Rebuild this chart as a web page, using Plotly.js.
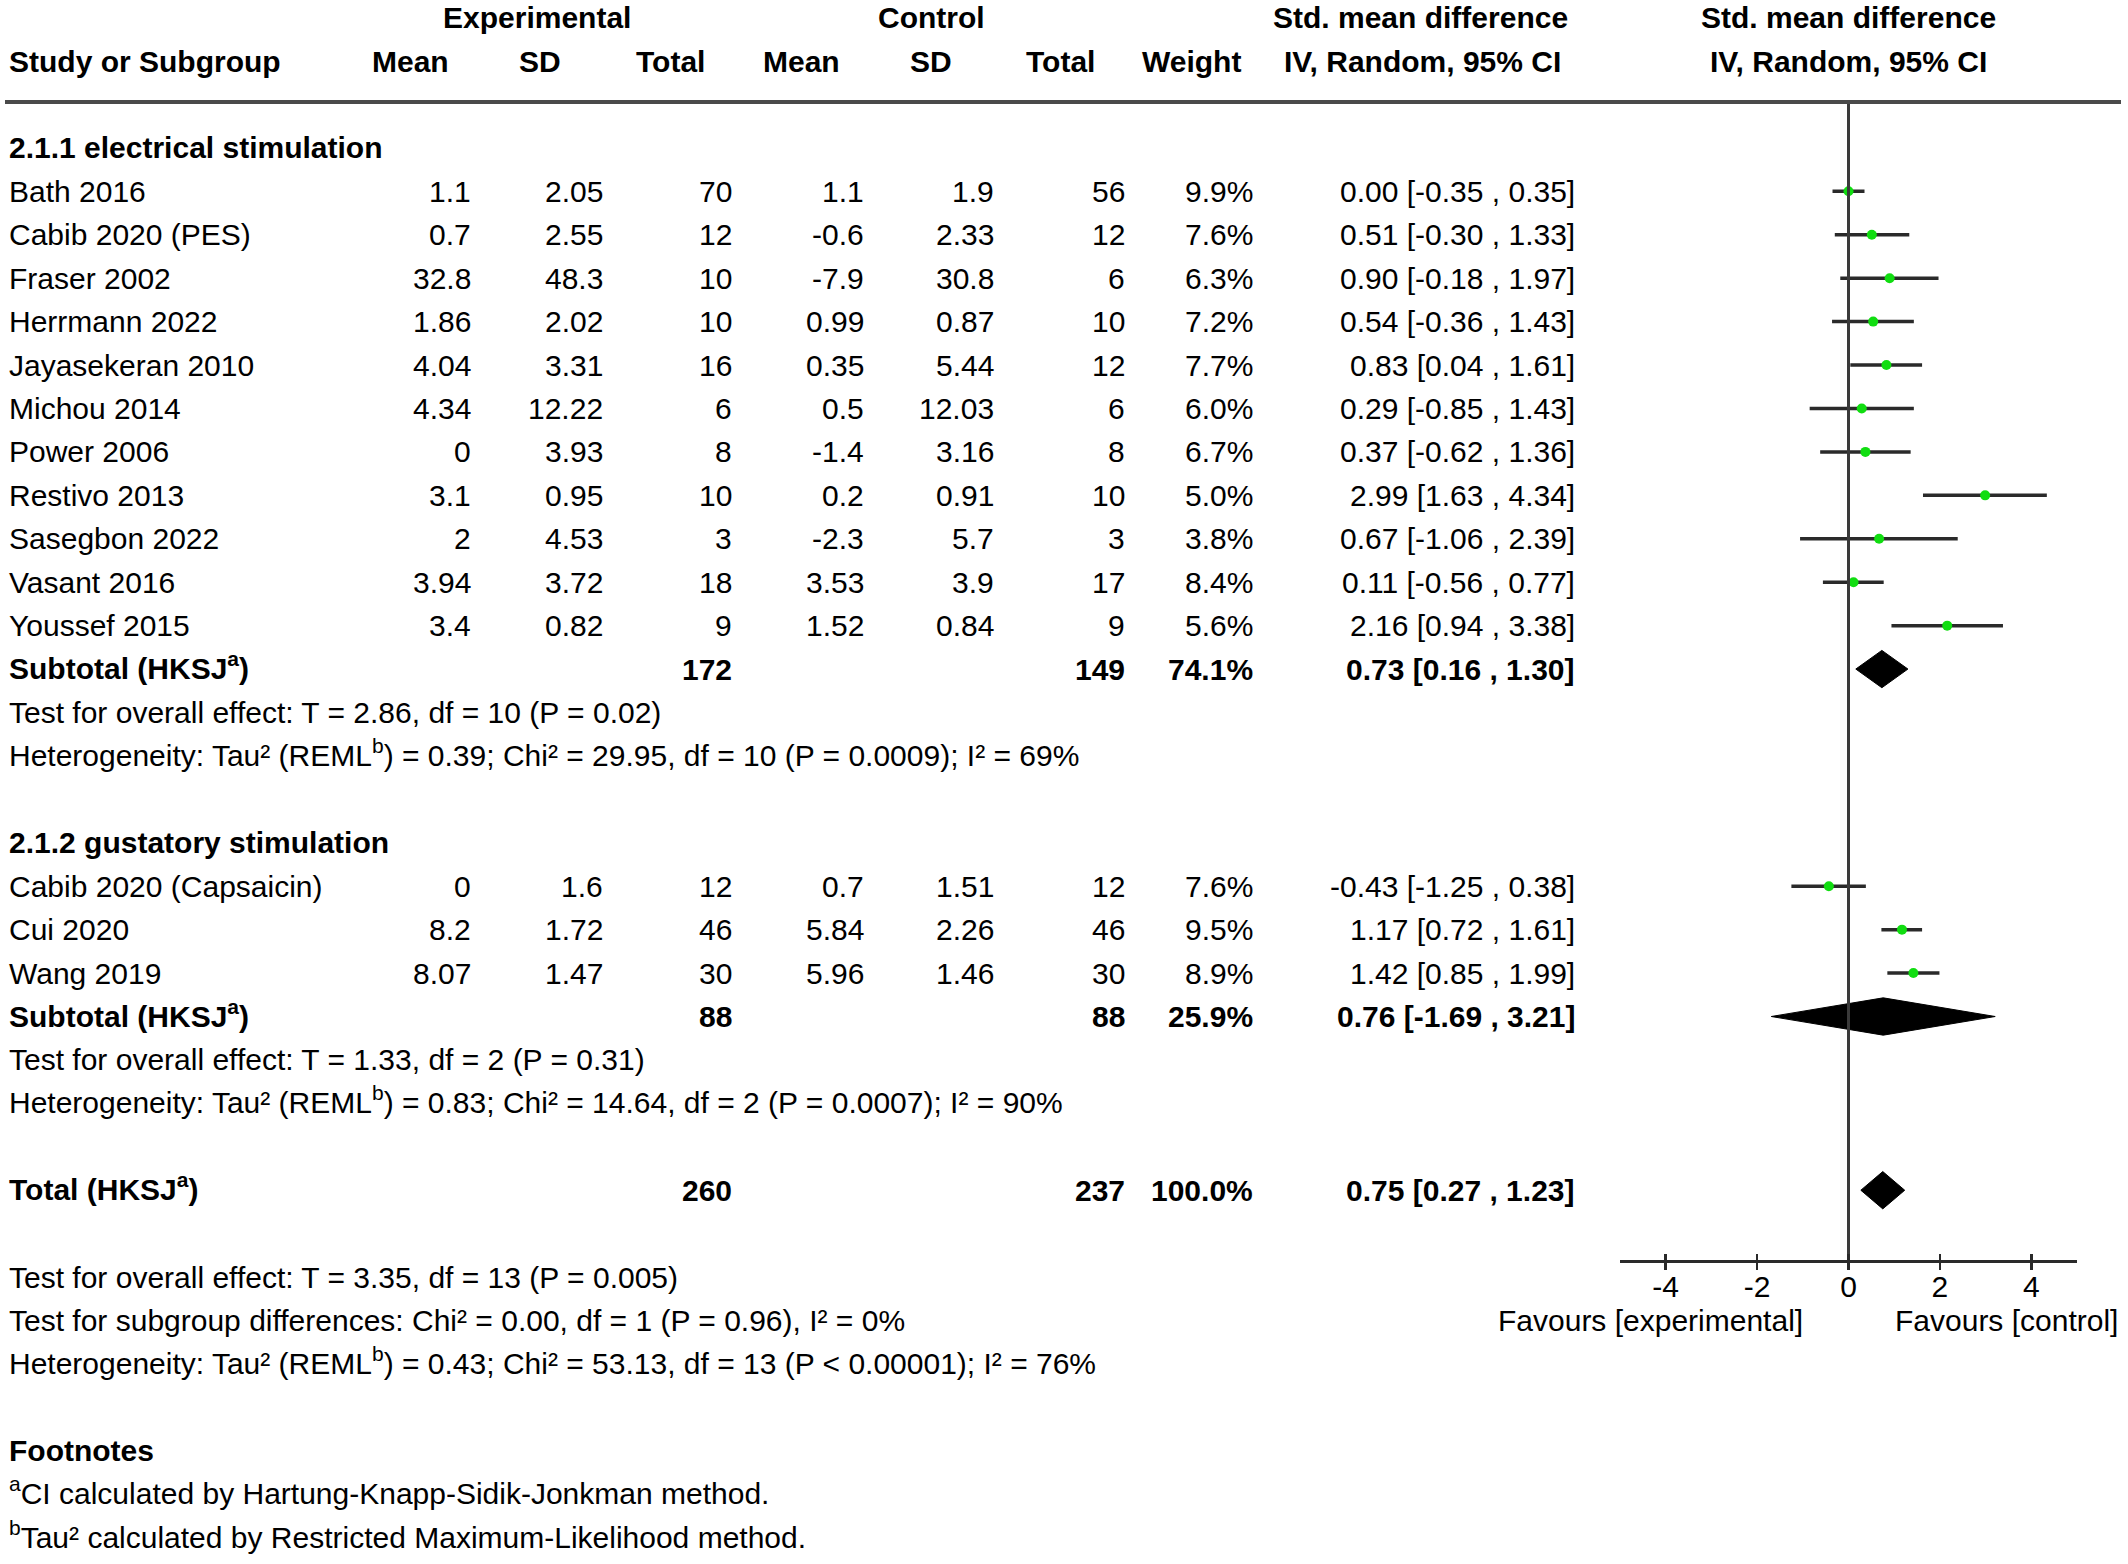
<!DOCTYPE html>
<html>
<head>
<meta charset="utf-8">
<script src="https://cdn.plot.ly/plotly-3.0.1.min.js"></script>
<style>html,body{margin:0;padding:0;background:#fff;}#chart{width:2128px;height:1564px;}</style>
</head>
<body>
<div id="chart"></div>
<script>
// ---------------- data ----------------
const studies = ["Bath 2016","Cabib 2020 (PES)","Fraser 2002","Herrmann 2022","Jayasekeran 2010","Michou 2014","Power 2006","Restivo 2013","Sasegbon 2022","Vasant 2016","Youssef 2015","Cabib 2020 (Capsaicin)","Cui 2020","Wang 2019"];
const studyGroup = [1,1,1,1,1,1,1,1,1,1,1,2,2,2];
const expMean = [1.1,0.7,32.8,1.86,4.04,4.34,0,3.1,2,3.94,3.4,0,8.2,8.07];
const expSD   = [2.05,2.55,48.3,2.02,3.31,12.22,3.93,0.95,4.53,3.72,0.82,1.6,1.72,1.47];
const expN    = [70,12,10,10,16,6,8,10,3,18,9,12,46,30];
const ctlMean = [1.1,-0.6,-7.9,0.99,0.35,0.5,-1.4,0.2,-2.3,3.53,1.52,0.7,5.84,5.96];
const ctlSD   = [1.9,2.33,30.8,0.87,5.44,12.03,3.16,0.91,5.7,3.9,0.84,1.51,2.26,1.46];
const ctlN    = [56,12,6,10,12,6,8,10,3,17,9,12,46,30];
const weights = [9.9,7.6,6.3,7.2,7.7,6.0,6.7,5.0,3.8,8.4,5.6,7.6,9.5,8.9];
const smd     = [0.00,0.51,0.90,0.54,0.83,0.29,0.37,2.99,0.67,0.11,2.16,-0.43,1.17,1.42];
const ciLo    = [-0.35,-0.30,-0.18,-0.36,0.04,-0.85,-0.62,1.63,-1.06,-0.56,0.94,-1.25,0.72,0.85];
const ciHi    = [0.35,1.33,1.97,1.43,1.61,1.43,1.36,4.34,2.39,0.77,3.38,0.38,1.61,1.99];

const groupNames = ["2.1.1 electrical stimulation","2.1.2 gustatory stimulation"];
const summaryLabels = ["Subtotal (HKSJ<sup>a</sup>)","Subtotal (HKSJ<sup>a</sup>)","Total (HKSJ<sup>a</sup>)"];
const summaryExpN = [172,88,260];
const summaryCtlN = [149,88,237];
const summaryWeight = [74.1,25.9,100.0];
const summaryEst = [0.73,0.76,0.75];
const summaryLo  = [0.16,-1.69,0.27];
const summaryHi  = [1.30,3.21,1.23];

const groupStats = [
  ["Test for overall effect: T = 2.86, df = 10 (P = 0.02)",
   "Heterogeneity: Tau² (REML<sup>b</sup>) = 0.39; Chi² = 29.95, df = 10 (P = 0.0009); I² = 69%"],
  ["Test for overall effect: T = 1.33, df = 2 (P = 0.31)",
   "Heterogeneity: Tau² (REML<sup>b</sup>) = 0.83; Chi² = 14.64, df = 2 (P = 0.0007); I² = 90%"]
];
const overallStats = [
  "Test for overall effect: T = 3.35, df = 13 (P = 0.005)",
  "Test for subgroup differences: Chi² = 0.00, df = 1 (P = 0.96), I² = 0%",
  "Heterogeneity: Tau² (REML<sup>b</sup>) = 0.43; Chi² = 53.13, df = 13 (P &lt; 0.00001); I² = 76%"
];
const footnotes = [
  "<sup>a</sup>CI calculated by Hartung-Knapp-Sidik-Jonkman method.",
  "<sup>b</sup>Tau² calculated by Restricted Maximum-Likelihood method."
];
const tickVals = [-4,-2,0,2,4];
const tickText = ["-4","-2","0","2","4"];
const favourLeft = "Favours [experimental]";
const favourRight = "Favours [control]";

// ---------------- layout geometry ----------------
const W = 2128, H = 1564;
const FONT = "Liberation Sans, Arial, sans-serif";
const FS = 30;
const ROW0 = 147.9, PITCH = 43.43;           // pixel centre of row 0, row pitch
const rTop = -ROW0 / PITCH, rBot = (H - ROW0) / PITCH;
const rowOfPx = p => (p - ROW0) / PITCH;
const P = v => v / W;
const AXIS_ROW = 25.625;
const LINE_ROW = rowOfPx(102);

// column right edges / centres (px)
const COL = {study:7, expMean:473, expSD:605, expN:734, ctlMean:866, ctlSD:996, ctlN:1127, weight:1255, ci:1577};
const HDR = {exp:537, ctl:931, mean1:410, sd1:540, tot1:670, mean2:801, sd2:931, tot2:1060, weight:1191, ci:1420, plot:1848};

let rows = [];
let r = 0;
const ann = [];
function txt(x, row, text, anchor, bold) {
  const hasSup = text.indexOf('<sup>') >= 0;
  ann.push({xref:'paper', yref:'y', x:P(x), y:row, text: bold ? '<b>'+text+'</b>' : text,
    xanchor:anchor, yanchor:'middle', showarrow:false, yshift: hasSup ? 3 : 0,
    font:{family:FONT, size:FS, color:'#000'}});
}
const fmtCI = (e,l,h) => e.toFixed(2) + ' [' + l.toFixed(2) + ' , ' + h.toFixed(2) + ']';

// headers
txt(HDR.exp, -3, 'Experimental', 'center', true);
txt(HDR.ctl, -3, 'Control', 'center', true);
txt(HDR.ci, -3, 'Std. mean difference', 'center', true);
txt(HDR.plot, -3, 'Std. mean difference', 'center', true);
txt(COL.study, -2, 'Study or Subgroup', 'left', true);
txt(HDR.mean1, -2, 'Mean', 'center', true);
txt(HDR.sd1, -2, 'SD', 'center', true);
txt(HDR.tot1, -2, 'Total', 'center', true);
txt(HDR.mean2, -2, 'Mean', 'center', true);
txt(HDR.sd2, -2, 'SD', 'center', true);
txt(HDR.tot2, -2, 'Total', 'center', true);
txt(HDR.weight, -2, 'Weight', 'center', true);
txt(HDR.ci+2, -2, 'IV, Random, 95% CI', 'center', true);
txt(HDR.plot, -2, 'IV, Random, 95% CI', 'center', true);

const summaryRows = [];
for (let g = 1; g <= 2; g++) {
  txt(COL.study, r, groupNames[g-1], 'left', true);
  r++;
  studies.forEach((s, i) => {
    if (studyGroup[i] !== g) return;
    rows[i] = r;
    txt(COL.study, r, s, 'left', false);
    txt(COL.expMean, r, String(expMean[i]), 'right', false);
    txt(COL.expSD, r, String(expSD[i]), 'right', false);
    txt(COL.expN, r, String(expN[i]), 'right', false);
    txt(COL.ctlMean, r, String(ctlMean[i]), 'right', false);
    txt(COL.ctlSD, r, String(ctlSD[i]), 'right', false);
    txt(COL.ctlN, r, String(ctlN[i]), 'right', false);
    txt(COL.weight, r, weights[i].toFixed(1) + '%', 'right', false);
    txt(COL.ci, r, fmtCI(smd[i], ciLo[i], ciHi[i]), 'right', false);
    r++;
  });
  summaryRows.push(r); r++;
  txt(COL.study, r, groupStats[g-1][0], 'left', false); r++;
  txt(COL.study, r, groupStats[g-1][1], 'left', false); r++;
  r++; // blank
}
summaryRows.push(r); r += 2;
overallStats.forEach(t => { txt(COL.study, r, t, 'left', false); r++; });
r++;
txt(COL.study, r, 'Footnotes', 'left', true); r++;
footnotes.forEach(t => { txt(COL.study, r, t, 'left', false); r++; });

summaryRows.forEach((sr, k) => {
  txt(COL.study, sr, summaryLabels[k], 'left', true);
  txt(COL.expN, sr, String(summaryExpN[k]), 'right', true);
  txt(COL.ctlN, sr, String(summaryCtlN[k]), 'right', true);
  txt(COL.weight, sr, summaryWeight[k].toFixed(1) + '%', 'right', true);
  txt(COL.ci, sr, fmtCI(summaryEst[k], summaryLo[k], summaryHi[k]), 'right', true);
});

// favours labels
ann.push({xref:'x', yref:'y', x:-0.95, y:AXIS_ROW + 1.375, text:favourLeft, xanchor:'right', yanchor:'middle',
  showarrow:false, font:{family:FONT, size:FS, color:'#000'}});
ann.push({xref:'x', yref:'y', x:0.97, y:AXIS_ROW + 1.375, text:favourRight, xanchor:'left', yanchor:'middle',
  showarrow:false, font:{family:FONT, size:FS, color:'#000'}});

// ---------------- traces ----------------
const traces = [];
traces.push({type:'scatter', mode:'lines', xaxis:'x2', yaxis:'y', x:[0,0], y:[LINE_ROW, AXIS_ROW],
  line:{color:'#3a3a3a', width:3}, hoverinfo:'skip'});
const cx = [], cy = [];
studies.forEach((s,i) => { cx.push(ciLo[i], ciHi[i], null); cy.push(rows[i], rows[i], null); });
traces.push({type:'scatter', mode:'lines', x:cx, y:cy, line:{color:'#2a2a2a', width:3.5}, hoverinfo:'skip', connectgaps:false});
const DH = 0.43;
summaryRows.forEach((sr,k) => {
  traces.push({type:'scatter', mode:'lines', x:[summaryLo[k], summaryEst[k], summaryHi[k], summaryEst[k], summaryLo[k]],
    y:[sr, sr-DH, sr, sr+DH, sr], fill:'toself', fillcolor:'#000', line:{color:'#000', width:1}, hoverinfo:'skip'});
});
traces.push({type:'scatter', mode:'markers', x:smd, y:rows, marker:{symbol:'circle', size:10, color:'#11dd11'}, hoverinfo:'skip'});

const axisPos = 1 - (ROW0 + AXIS_ROW*PITCH) / H;
const dom = [P(1620), P(2077)];
const layout = {
  width:W, height:H, margin:{l:0, r:0, t:0, b:0},
  paper_bgcolor:'#fff', plot_bgcolor:'rgba(0,0,0,0)', showlegend:false,
  xaxis:{domain:dom, range:[-5,5], anchor:'free', position:axisPos, showgrid:false, zeroline:false,
    showline:true, linecolor:'#2a2a2a', linewidth:3, ticks:'outside', ticklen:7, tickwidth:2.5, tickcolor:'#2a2a2a',
    ticklabelstandoff:-9,
    tickvals:tickVals, ticktext:tickText, tickfont:{family:FONT, size:FS, color:'#000'}},
  xaxis2:{domain:dom, range:[-5,5], overlaying:'x', anchor:'free', position:axisPos, showgrid:false, zeroline:false,
    showline:false, ticks:'inside', ticklen:7, tickwidth:2.5, tickcolor:'#2a2a2a', tickvals:tickVals, showticklabels:false},
  yaxis:{domain:[0,1], range:[rBot, rTop], showgrid:false, zeroline:false, showline:false, showticklabels:false, ticks:''},
  shapes:[
    {type:'line', xref:'paper', yref:'y', x0:P(5), x1:P(2121), y0:LINE_ROW, y1:LINE_ROW, line:{color:'#4a4a4a', width:4}}
  ],
  annotations:ann
};
Plotly.newPlot('chart', traces, layout, {staticPlot:true, displayModeBar:false});
</script>
</body>
</html>
